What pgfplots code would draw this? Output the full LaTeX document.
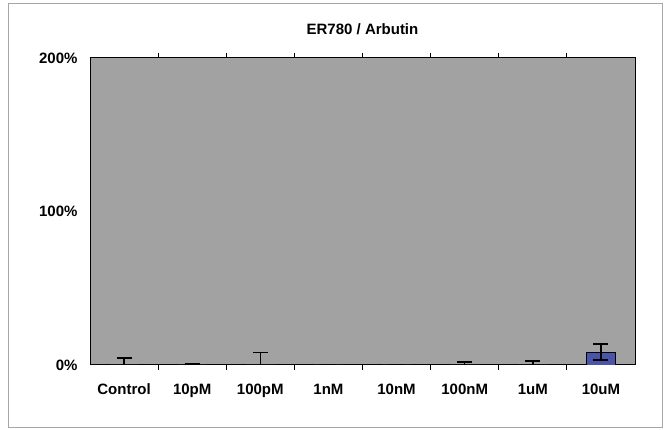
\documentclass[border=0pt]{standalone}
\usepackage{pgfplots}
\pgfplotsset{compat=1.18}
\usepackage{fontspec}
\setmainfont{Liberation Sans}
\definecolor{plotgray}{HTML}{A2A2A2}
\definecolor{barblue}{HTML}{4A55A8}
\begin{document}
\begin{tikzpicture}[x=1pt,y=1pt]
\fill[white] (0,0) rectangle (664,430);
\draw[gray!70, line width=1pt] (8,2) rectangle (662,426);
\begin{axis}[
    at={(90pt,65pt)}, anchor=south west,
    scale only axis, width=545pt, height=307pt,
    axis background/.style={fill=plotgray},
    axis line style={black, line width=1pt},
    ybar, bar width=29pt,
    xmin=-0.5, xmax=7.5, ymin=0, ymax=200,
    xtick={0,...,7}, xticklabels={Control,10pM,100pM,1nM,10nM,100nM,1uM,10uM},
    extra x ticks={0.5,1.5,...,6.5}, extra x tick labels={},
    extra x tick style={major tick length=5pt, tick style={black, line width=0.8pt}},
    ytick={0,100,200}, yticklabels={0\%,100\%,200\%},
    major tick length=0pt,
    tick label style={font=\bfseries\fontsize{15}{17}\selectfont},
    xticklabel style={yshift=-15pt, text height=11pt, text depth=3pt},
    yticklabel style={xshift=-9pt},
    title={\bfseries ER780 / Arbutin},
    title style={font=\fontsize{15}{17}\selectfont, at={(axis description cs:0.5,1)}, anchor=center, yshift=23pt},
]
\addplot[fill=barblue, draw=black, line width=0.6pt,
    error bars/.cd, y dir=both, y explicit,
    error bar style={black, line width=1.5pt},
    error mark options={rotate=90, mark size=7.5pt, line width=1.5pt}]
  coordinates {
    (0,0) +- (0,4.5)
    (1,0) +- (0,0.5)
    (2,0) +- (0,8)
    (3,0) +- (0,0)
    (4,0) +- (0,0)
    (5,0) +- (0,2)
    (6,0) +- (0,2.6)
    (7,8.4) +- (0,5.2)
  };
\end{axis}
\end{tikzpicture}
\end{document}
